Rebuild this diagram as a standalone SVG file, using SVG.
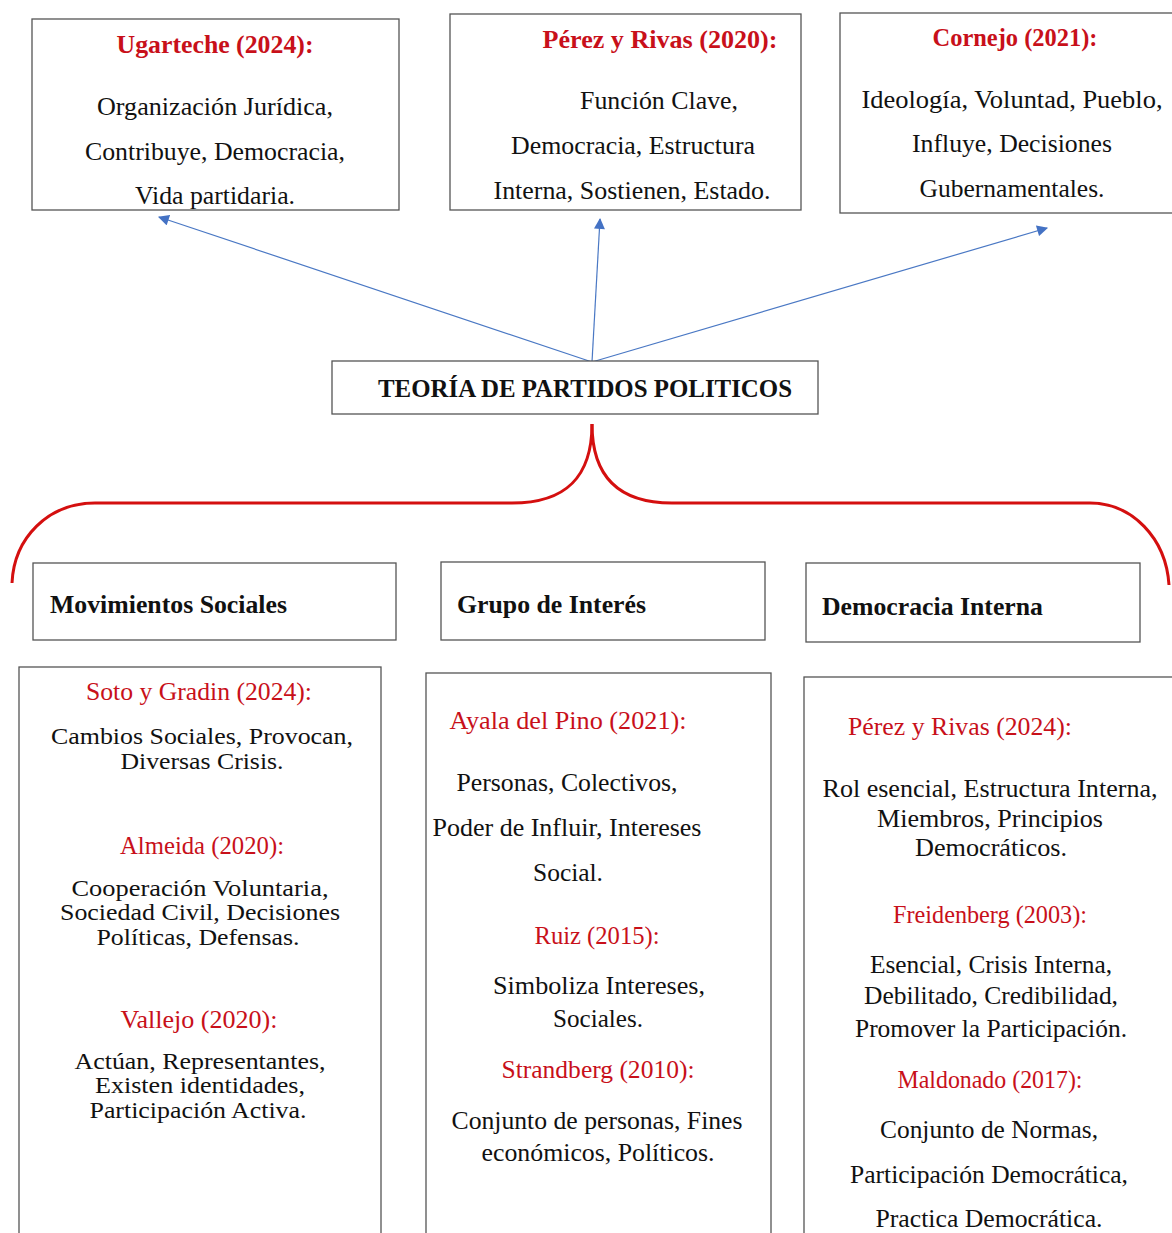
<svg xmlns="http://www.w3.org/2000/svg" width="1172" height="1233" viewBox="0 0 1172 1233">
<defs>
<style>
.box{fill:#fff;stroke:#555;stroke-width:1.3}
.t{font-family:"Liberation Serif","Times New Roman",serif;font-size:26px;fill:#111}
.k{font-size:23px}
.c{text-anchor:middle}
.b{font-weight:bold}
.r{fill:#C8101A}
.h{font-family:"Liberation Serif","Times New Roman",serif;font-size:26px;font-weight:bold;fill:#111}
.arrow{stroke:#4a78c4;stroke-width:1.2;fill:none}
.brace{stroke:#D40F0F;stroke-width:3;fill:none}
</style>
<marker id="ah" viewBox="0 0 10 10" refX="9" refY="5" markerWidth="12" markerHeight="11" markerUnits="userSpaceOnUse" orient="auto">
<path d="M0,0 L10,5 L0,10 z" fill="#4472C4"/>
</marker>
</defs>
<rect width="1172" height="1233" fill="#fff"/>

<g id="connectors">
<line class="arrow" x1="592" y1="362" x2="159" y2="217" marker-end="url(#ah)"/>
<line class="arrow" x1="592" y1="362" x2="600" y2="219" marker-end="url(#ah)"/>
<line class="arrow" x1="592" y1="362" x2="1047" y2="228" marker-end="url(#ah)"/>
<path class="brace" d="M592,424 C592,478 565,503 512,503 L95,503 C48,503 14,538 12,583"/>
<path class="brace" d="M592,424 C592,478 620,503 672,503 L1090,503 C1132,503 1166,538 1169,585"/>
</g>

<g id="ugarteche">
<rect class="box" x="32" y="19" width="367" height="191"/>
<text class="t c b r" x="215" y="53" textLength="197" lengthAdjust="spacingAndGlyphs">Ugarteche (2024):</text>
<text class="t c" x="215" y="115" textLength="236" lengthAdjust="spacingAndGlyphs">Organización Jurídica,</text>
<text class="t c" x="215" y="160" textLength="260" lengthAdjust="spacingAndGlyphs">Contribuye, Democracia,</text>
<text class="t c" x="215" y="204" textLength="160" lengthAdjust="spacingAndGlyphs">Vida partidaria.</text>
</g>

<g id="perez2020">
<rect class="box" x="450" y="14" width="351" height="196"/>
<text class="t c b r" x="660" y="48" textLength="235" lengthAdjust="spacingAndGlyphs">Pérez y Rivas (2020):</text>
<text class="t c" x="659" y="109" textLength="158" lengthAdjust="spacingAndGlyphs">Función Clave,</text>
<text class="t c" x="633" y="154" textLength="244" lengthAdjust="spacingAndGlyphs">Democracia, Estructura</text>
<text class="t c" x="632" y="199" textLength="277" lengthAdjust="spacingAndGlyphs">Interna, Sostienen, Estado.</text>
</g>

<g id="cornejo">
<rect class="box" x="840" y="13" width="340" height="200"/>
<text class="t c b r" x="1015" y="46" textLength="165" lengthAdjust="spacingAndGlyphs">Cornejo (2021):</text>
<text class="t c" x="1012" y="108" textLength="301" lengthAdjust="spacingAndGlyphs">Ideología, Voluntad, Pueblo,</text>
<text class="t c" x="1012" y="152" textLength="200" lengthAdjust="spacingAndGlyphs">Influye, Decisiones</text>
<text class="t c" x="1012" y="197" textLength="185" lengthAdjust="spacingAndGlyphs">Gubernamentales.</text>
</g>

<g id="teoria">
<rect class="box" x="332" y="361" width="486" height="53"/>
<text class="h" x="378" y="397" font-size="25" textLength="414" lengthAdjust="spacingAndGlyphs">TEORÍA DE PARTIDOS POLITICOS</text>
</g>

<g id="movimientos">
<rect class="box" x="33" y="563" width="363" height="77"/>
<text class="h" x="50" y="613" textLength="237" lengthAdjust="spacingAndGlyphs">Movimientos Sociales</text>
</g>

<g id="grupo">
<rect class="box" x="441" y="562" width="324" height="78"/>
<text class="h" x="457" y="613" textLength="189" lengthAdjust="spacingAndGlyphs">Grupo de Interés</text>
</g>

<g id="democracia">
<rect class="box" x="806" y="563" width="334" height="79"/>
<text class="h" x="822" y="615" textLength="221" lengthAdjust="spacingAndGlyphs">Democracia Interna</text>
</g>

<g id="movimientos-detalle">
<rect class="box" x="19" y="667" width="362" height="600"/>
<text class="t c r" x="199" y="700" textLength="226" lengthAdjust="spacingAndGlyphs">Soto y Gradin (2024):</text>
<text class="t k c" x="202" y="744" textLength="302" lengthAdjust="spacingAndGlyphs">Cambios Sociales, Provocan,</text>
<text class="t k c" x="202" y="769" textLength="163" lengthAdjust="spacingAndGlyphs">Diversas Crisis.</text>
<text class="t c r" x="202" y="854" textLength="164" lengthAdjust="spacingAndGlyphs">Almeida (2020):</text>
<text class="t k c" x="200" y="896" textLength="257" lengthAdjust="spacingAndGlyphs">Cooperación Voluntaria,</text>
<text class="t k c" x="200" y="920" textLength="280" lengthAdjust="spacingAndGlyphs">Sociedad Civil, Decisiones</text>
<text class="t k c" x="198" y="945" textLength="203" lengthAdjust="spacingAndGlyphs">Políticas, Defensas.</text>
<text class="t c r" x="199" y="1028" textLength="157" lengthAdjust="spacingAndGlyphs">Vallejo (2020):</text>
<text class="t k c" x="200" y="1069" textLength="251" lengthAdjust="spacingAndGlyphs">Actúan, Representantes,</text>
<text class="t k c" x="200" y="1093" textLength="210" lengthAdjust="spacingAndGlyphs">Existen identidades,</text>
<text class="t k c" x="198" y="1118" textLength="217" lengthAdjust="spacingAndGlyphs">Participación Activa.</text>
</g>

<g id="grupo-detalle">
<rect class="box" x="426" y="673" width="345" height="600"/>
<text class="t c r" x="568" y="729" textLength="237" lengthAdjust="spacingAndGlyphs">Ayala del Pino (2021):</text>
<text class="t c" x="567" y="791" textLength="221" lengthAdjust="spacingAndGlyphs">Personas, Colectivos,</text>
<text class="t c" x="567" y="836" textLength="269" lengthAdjust="spacingAndGlyphs">Poder de Influir, Intereses</text>
<text class="t c" x="568" y="881" textLength="70" lengthAdjust="spacingAndGlyphs">Social.</text>
<text class="t c r" x="597" y="944" textLength="125" lengthAdjust="spacingAndGlyphs">Ruiz (2015):</text>
<text class="t c" x="599" y="994" textLength="212" lengthAdjust="spacingAndGlyphs">Simboliza Intereses,</text>
<text class="t c" x="598" y="1027" textLength="90" lengthAdjust="spacingAndGlyphs">Sociales.</text>
<text class="t c r" x="598" y="1078" textLength="193" lengthAdjust="spacingAndGlyphs">Strandberg (2010):</text>
<text class="t c" x="597" y="1129" textLength="291" lengthAdjust="spacingAndGlyphs">Conjunto de personas, Fines</text>
<text class="t c" x="598" y="1161" textLength="233" lengthAdjust="spacingAndGlyphs">económicos, Políticos.</text>
</g>

<g id="democracia-detalle">
<rect class="box" x="804" y="677" width="380" height="600"/>
<text class="t c r" x="960" y="735" textLength="224" lengthAdjust="spacingAndGlyphs">Pérez y Rivas (2024):</text>
<text class="t c" x="990" y="797" textLength="335" lengthAdjust="spacingAndGlyphs">Rol esencial, Estructura Interna,</text>
<text class="t c" x="990" y="827" textLength="226" lengthAdjust="spacingAndGlyphs">Miembros, Principios</text>
<text class="t c" x="991" y="856" textLength="152" lengthAdjust="spacingAndGlyphs">Democráticos.</text>
<text class="t c r" x="990" y="923" textLength="194" lengthAdjust="spacingAndGlyphs">Freidenberg (2003):</text>
<text class="t c" x="991" y="973" textLength="242" lengthAdjust="spacingAndGlyphs">Esencial, Crisis Interna,</text>
<text class="t c" x="991" y="1004" textLength="254" lengthAdjust="spacingAndGlyphs">Debilitado, Credibilidad,</text>
<text class="t c" x="991" y="1037" textLength="272" lengthAdjust="spacingAndGlyphs">Promover la Participación.</text>
<text class="t c r" x="990" y="1088" textLength="185" lengthAdjust="spacingAndGlyphs">Maldonado (2017):</text>
<text class="t c" x="989" y="1138" textLength="218" lengthAdjust="spacingAndGlyphs">Conjunto de Normas,</text>
<text class="t c" x="989" y="1183" textLength="278" lengthAdjust="spacingAndGlyphs">Participación Democrática,</text>
<text class="t c" x="989" y="1227" textLength="227" lengthAdjust="spacingAndGlyphs">Practica Democrática.</text>
</g>
</svg>
